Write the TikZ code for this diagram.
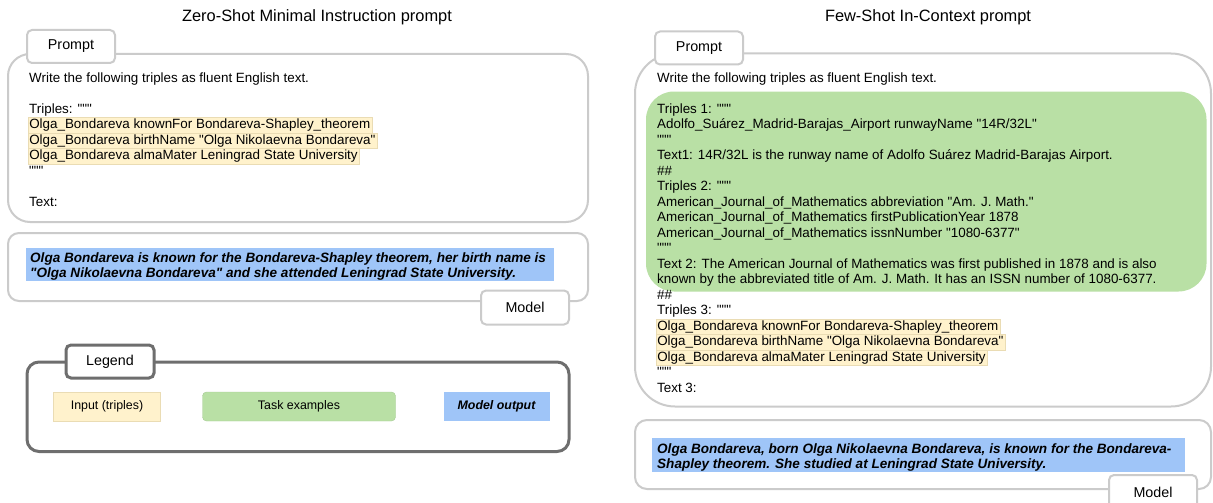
\documentclass[tikz,border=0pt]{standalone}
\usepackage{fontspec}
\setmainfont{Liberation Sans}[Ligatures=TeXOff]
\usepackage{tikz}
\usetikzlibrary{positioning}
\definecolor{inputfill}{HTML}{FFF2CC}
\definecolor{inputline}{HTML}{EADCB4}
\definecolor{taskgreen}{HTML}{B9E0A5}
\definecolor{outblue}{HTML}{9FC5F8}
\definecolor{panelgray}{HTML}{CBCBCB}
\definecolor{legendgray}{HTML}{6E6E6E}

\tikzset{
  panel/.style={draw=panelgray,line width=2pt,fill=white},
  tabbox/.style={draw=panelgray,line width=2pt,fill=white,rounded corners=5pt,
    minimum width=88pt,minimum height=33pt,inner sep=0pt,font=\fontsize{14.3}{16}\selectfont},
  txt/.style={anchor=base west,inner sep=0pt,font=\fontsize{13.4}{15.5}\selectfont},
  triple/.style={txt,fill=inputfill,draw=inputline,line width=0.5pt,
    inner xsep=1.5pt,inner ysep=0.8pt,text height=10pt,text depth=3.6pt},
  outtext/.style={txt,font=\fontsize{13.55}{15.5}\selectfont\bfseries\itshape},
  ptitle/.style={inner sep=0pt,font=\fontsize{16.4}{18}\selectfont},
  legitem/.style={minimum height=29pt,inner sep=0pt,font=\fontsize{12.4}{14}\selectfont},
}

\begin{document}
\begin{tikzpicture}[x=1pt,y=-1pt]
  \useasboundingbox (0,0) rectangle (1213,503);

  % zero-shot prompt
  \node[ptitle] (titleL) at (317,17) {Zero-Shot Minimal Instruction prompt};
  \draw[panel,rounded corners=22pt] (8,54) rectangle (588,222);
  \node[tabbox] (promptL) at (71,46.5) {Prompt};
  \node[txt] (wL) at (29,82) {Write the following triples as fluent English text.};
  \node[txt] (tL) at (29,113) {Triples: """};
  \node[triple] (iL1) at (27.5,128.5) {Olga\_Bondareva knownFor Bondareva-Shapley\_theorem};
  \node[triple] (iL2) at (27.5,144) {Olga\_Bondareva birthName "Olga Nikolaevna Bondareva"};
  \node[triple] (iL3) at (27.5,159.5) {Olga\_Bondareva almaMater Leningrad State University};
  \node[txt] (qL) at (29,175) {"""};
  \node[txt] (xL) at (29,206) {Text:};

  \draw[panel,rounded corners=11pt] (8,233) rectangle (588,301);
  \fill[outblue] (26,248) rectangle (554,281);
  \node[outtext] (oL1) at (30,262) {Olga Bondareva is known for the Bondareva-Shapley theorem, her birth name is};
  \node[outtext] (oL2) at (30,277.5) {"Olga Nikolaevna Bondareva" and she attended Leningrad State University.};
  \node[tabbox,minimum height=34pt] (modelL) at (525,307.5) {Model};

  % legend
  \draw[draw=legendgray,line width=3pt,rounded corners=12pt] (27,362) rectangle (569,451.5);
  \node[tabbox,draw=legendgray,line width=3pt] (legend) at (110,361.5) {Legend};
  \node[legitem,fill=inputfill,draw=inputline,line width=0.5pt,minimum width=107pt] (legIn) at (107,406.5) {Input (triples)};
  \node[legitem,fill=taskgreen,draw=taskgreen!90!black,line width=0.4pt,rounded corners=4pt,minimum width=193pt] (legTask) at (299,406.5) {Task examples};
  \node[legitem,fill=outblue,minimum width=106pt,font=\fontsize{12.4}{14}\selectfont\bfseries\itshape] (legOut) at (496.5,406.5) {Model output};

  % few-shot prompt
  \node[ptitle] (titleR) at (928,17) {Few-Shot In-Context prompt};
  \draw[panel,rounded corners=40pt] (635,53.5) rectangle (1211,406.5);
  \node[tabbox] (promptR) at (699,48) {Prompt};
  \fill[taskgreen,rounded corners=28pt] (646,91.5) rectangle (1206.5,291.5);
  \node[txt] (wR) at (657,82) {Write the following triples as fluent English text.};
  \foreach \ln [count=\k from 2] in {{Triples 1: """},
      {Adolfo\_Suárez\_Madrid-Barajas\_Airport runwayName "14R/32L"},
      {"""},
      {Text1: 14R/32L is the runway name of Adolfo Suárez Madrid-Barajas Airport.},
      {\#\#},
      {Triples 2: """},
      {American\_Journal\_of\_Mathematics abbreviation "Am. J. Math."},
      {American\_Journal\_of\_Mathematics firstPublicationYear 1878},
      {American\_Journal\_of\_Mathematics issnNumber "1080-6377"},
      {"""},
      {Text 2: The American Journal of Mathematics was first published in 1878 and is also},
      {known by the abbreviated title of Am. J. Math. It has an ISSN number of 1080-6377.},
      {\#\#},
      {Triples 3: """}}
    \node[txt] (r\k) at (657,{82+15.5*\k}) {\ln};
  \node[triple] (iR1) at (655.5,330) {Olga\_Bondareva knownFor Bondareva-Shapley\_theorem};
  \node[triple] (iR2) at (655.5,345.5) {Olga\_Bondareva birthName "Olga Nikolaevna Bondareva"};
  \node[triple] (iR3) at (655.5,361) {Olga\_Bondareva almaMater Leningrad State University};
  \node[txt] (qR) at (657,376.5) {"""};
  \node[txt] (xR) at (657,392) {Text 3:};

  \draw[panel,rounded corners=12pt] (635,420) rectangle (1211,489);
  \fill[outblue] (652,437.5) rectangle (1185,471.5);
  \node[outtext] (oR1) at (657,453) {Olga Bondareva, born Olga Nikolaevna Bondareva, is known for the Bondareva-};
  \node[outtext] (oR2) at (657,468) {Shapley theorem. She studied at Leningrad State University.};
  \node[tabbox,minimum height=34pt] (modelR) at (1153,492) {Model};
\end{tikzpicture}
\end{document}
